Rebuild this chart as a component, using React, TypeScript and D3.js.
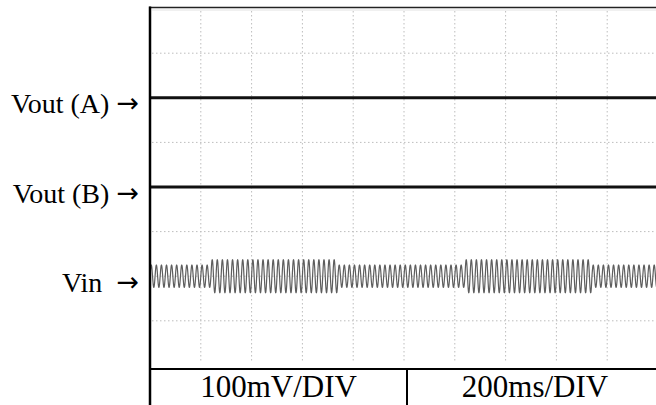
import React from 'react';
import * as d3 from 'd3';

// ---- data ----
const TIME_DOMAIN_MS = [0, 2000];
const DIV_DOMAIN = [0, 8];
const TIME_GRID_MS = [200, 400, 600, 800, 1000, 1200, 1400, 1600, 1800, 2000];
const DIV_GRID = [1, 2, 3, 4, 5, 6, 7];
const CHANNEL_LABELS = ['Vout (A) ', 'Vout (B) ', 'Vin  '];
const ARROW = '\u2192';
const CHANNEL_LEVEL_DIV = [6, 4, 2];
const VOUT_A_TIME_MS = [0, 2000];
const VOUT_A_LEVEL_DIV = [6, 6];
const VOUT_B_TIME_MS = [0, 2000];
const VOUT_B_LEVEL_DIV = [4, 4];
const VIN_OFFSET_DIV = 2;
const VIN_SEG_START_MS = [0, 240, 740, 1240, 1740];
const VIN_SEG_END_MS = [240, 740, 1240, 1740, 2000];
const VIN_SEG_AMPLITUDE_MV = [25, 37, 25, 37, 25];
const VIN_FREQ_HZ = 50;
const MV_PER_DIV = 100;
const SCALE_LABELS = ['100mV/DIV', '200ms/DIV'];

const W = 656;
const H = 405;

export default function App() {
  const x = d3.scaleLinear().domain(TIME_DOMAIN_MS).range([150, 658]);
  const y = d3.scaleLinear().domain(DIV_DOMAIN).range([365.4, 8.6]);

  const line = d3
    .line<[number, number]>()
    .x((d) => x(d[0]))
    .y((d) => y(d[1]));

  // Vin waveform from its envelope segments and carrier frequency
  const vinPts: [number, number][] = [];
  const step = 0.25;
  for (let t = TIME_DOMAIN_MS[0]; t <= TIME_DOMAIN_MS[1]; t += step) {
    let idx = VIN_SEG_START_MS.findIndex((s, i) => t >= s && t < VIN_SEG_END_MS[i]);
    if (idx < 0) idx = VIN_SEG_START_MS.length - 1;
    const amp = VIN_SEG_AMPLITUDE_MV[idx] / MV_PER_DIV;
    const v = VIN_OFFSET_DIV + amp * Math.sin(2 * Math.PI * VIN_FREQ_HZ * (t / 1000));
    vinPts.push([t, v]);
  }

  const voutA: [number, number][] = VOUT_A_TIME_MS.map((t, i) => [t, VOUT_A_LEVEL_DIV[i]]);
  const voutB: [number, number][] = VOUT_B_TIME_MS.map((t, i) => [t, VOUT_B_LEVEL_DIV[i]]);

  const left = x(TIME_DOMAIN_MS[0]);
  const top = 7.5;
  const boxY = 369;
  const mid = x(1000) + 3;
  const gridColor = '#bdbdbd';

  return (
    <div style={{ position: 'fixed', left: 0, top: 0, width: W, height: H, background: '#fff' }}>
      <svg width={W} height={H} style={{ display: 'block', fontFamily: '"Liberation Serif", "Times New Roman", serif' }}>
        <rect x={0} y={0} width={W} height={H} fill="#fff" />
        {/* grid */}
        {TIME_GRID_MS.map((t) => (
          <line key={'vx' + t} x1={x(t)} x2={x(t)} y1={11} y2={363} stroke={gridColor} strokeWidth={1} strokeDasharray="1.5 2.5" />
        ))}
        {DIV_GRID.map((d) => (
          <line key={'hy' + d} x1={152} x2={W} y1={y(d)} y2={y(d)} stroke={gridColor} strokeWidth={1} strokeDasharray="1.5 2.5" />
        ))}
        <line x1={152} x2={W} y1={10} y2={10} stroke="#e2e2e2" strokeWidth={1} />

        {/* traces */}
        <path d={line(vinPts) || ''} fill="none" stroke="#5e5e5e" strokeWidth={1.2} />
        <path d={line(voutA) || ''} fill="none" stroke="#111" strokeWidth={3} />
        <path d={line(voutB) || ''} fill="none" stroke="#111" strokeWidth={3} />

        {/* frame */}
        <line x1={149} x2={W} y1={top} y2={top} stroke="#222" strokeWidth={1.5} />
        <line x1={left} x2={left} y1={6.5} y2={H} stroke="#000" strokeWidth={2.5} />
        <line x1={149} x2={W} y1={boxY} y2={boxY} stroke="#000" strokeWidth={2} />
        <line x1={mid} x2={mid} y1={boxY} y2={H} stroke="#000" strokeWidth={2} />

        {/* channel labels */}
        {CHANNEL_LABELS.map((lab, i) => (
          <text
            key={lab}
            x={139}
            y={y(CHANNEL_LEVEL_DIV[i]) + 15.5}
            textAnchor="end"
            fontSize={28}
            fill="#000"
            style={{ whiteSpace: 'pre' }}
          >
            {lab}
            <tspan fontFamily='"DejaVu Sans", sans-serif' fontSize={27} dy={-1}>
              {ARROW}
            </tspan>
          </text>
        ))}

        {/* scale labels */}
        <text x={(left + mid) / 2} y={397} textAnchor="middle" fontSize={31} fill="#000">
          {SCALE_LABELS[0]}
        </text>
        <text x={(mid + 663) / 2} y={397} textAnchor="middle" fontSize={31} fill="#000">
          {SCALE_LABELS[1]}
        </text>
      </svg>
    </div>
  );
}
